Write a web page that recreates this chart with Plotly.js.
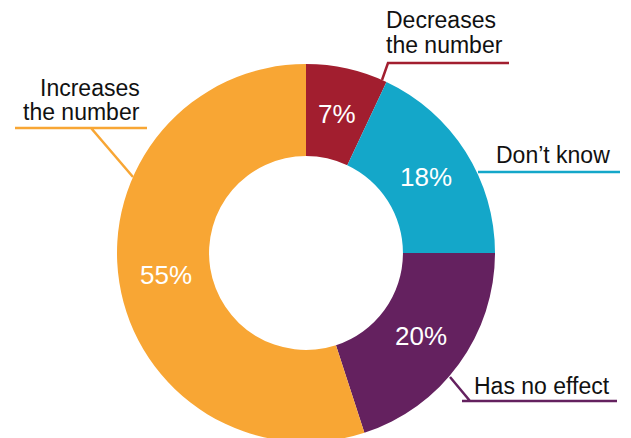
<!DOCTYPE html>
<html>
<head>
<meta charset="utf-8">
<script src="https://cdn.plot.ly/plotly-3.0.1.min.js"></script>
<style>
html,body{margin:0;padding:0;overflow:hidden;background:#fff;}
#chart{width:631px;height:442px;}
</style>
</head>
<body>
<div id="chart"></div>
<script>
// Data
var categories = ["Decreases the number", "Don\u2019t know", "Has no effect", "Increases the number"];
var values = [7, 18, 20, 55];
var colors = ["#A21E2F", "#14A7C9", "#64215F", "#F8A634"];
var labelLines = [["Decreases", "the number"], ["Don\u2019t know"], ["Has no effect"], ["Increases", "the number"]];

var W = 631, H = 442;
function px(x){ return x / W; }
function py(y){ return 1 - y / H; }

var FONT = "Liberation Sans, Arial, Helvetica, sans-serif";

// Pie geometry (pixels)
var CX = 306, CY = 253, R = 189, HOLE = 0.513;

var trace = {
  type: "pie",
  labels: categories,
  values: values,
  sort: false,
  direction: "clockwise",
  rotation: 0,
  hole: HOLE,
  marker: {colors: colors, line: {width: 0}},
  textinfo: "none",
  hoverinfo: "none",
  showlegend: false,
  domain: {x: [px(CX - R), px(CX + R)], y: [0, py(CY - R)]}
};

var annotations = [];
var shapes = [];

// Percent labels placed at each slice's mid angle, mid-ring radius
var total = values.reduce(function(a, b){ return a + b; }, 0);
var cum = 0;
var rText = R * (1 + HOLE) / 2 - 1;
values.forEach(function(v){
  var mid = (cum + v / 2) / total * 2 * Math.PI;
  cum += v;
  var x = CX + rText * Math.sin(mid);
  var y = CY - rText * Math.cos(mid);
  annotations.push({
    text: v + "%", xref: "paper", yref: "paper",
    x: px(x), y: py(y), xanchor: "center", yanchor: "middle",
    showarrow: false, font: {family: FONT, size: 26, color: "#ffffff"}
  });
});

// Outside labels and leader lines
var labelSpec = [
  {lines: labelLines[0], x: 384, ys: [20, 45], anchor: "left", color: colors[0],
   path: [[382, 80], [388, 63], [509, 63]]},
  {lines: labelLines[1], x: 494, ys: [155], anchor: "left", color: colors[1],
   path: [[478, 172], [620, 172]]},
  {lines: labelLines[2], x: 472, ys: [386], anchor: "left", color: colors[2],
   path: [[450, 377], [470, 401], [462, 401], [617, 401]]},
  {lines: labelLines[3], x: 142, ys: [88, 112], anchor: "right", color: colors[3],
   path: [[133, 177], [91, 128], [15, 128], [147, 128]]}
];

labelSpec.forEach(function(s){
  s.lines.forEach(function(t, i){
    annotations.push({
      text: t, xref: "paper", yref: "paper",
      x: px(s.x), y: py(s.ys[i]), xanchor: s.anchor, yanchor: "middle",
      showarrow: false, font: {family: FONT, size: 23, color: "#111111"}
    });
  });
  var d = "M" + s.path.map(function(p){ return px(p[0]) + "," + py(p[1]); }).join(" L");
  shapes.push({type: "path", xref: "paper", yref: "paper", path: d,
    line: {color: s.color, width: 2.5}});
});

var layout = {
  width: W, height: H,
  margin: {l: 0, r: 0, t: 0, b: 0},
  paper_bgcolor: "#ffffff",
  plot_bgcolor: "#ffffff",
  annotations: annotations,
  shapes: shapes,
  font: {family: FONT}
};

Plotly.newPlot("chart", [trace], layout, {displayModeBar: false, staticPlot: true});
</script>
</body>
</html>
